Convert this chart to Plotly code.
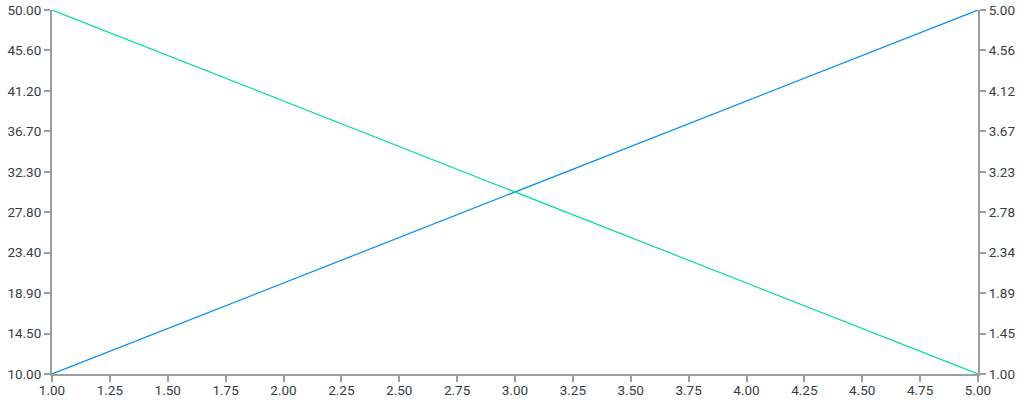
import plotly.graph_objects as go

x_values = [1, 2, 3, 4, 5]
series_left = [10, 20, 30, 40, 50]
series_right = [5, 4, 3, 2, 1]

x_ticks = [1 + 0.25 * i for i in range(17)]
x_tick_text = [f"{v:.2f}" for v in x_ticks]

left_tick_text = ["10.00", "14.50", "18.90", "23.40", "27.80", "32.30", "36.70", "41.20", "45.60", "50.00"]
right_tick_text = ["1.00", "1.45", "1.89", "2.34", "2.78", "3.23", "3.67", "4.12", "4.56", "5.00"]
left_ticks = [10 + 40 / 9 * i for i in range(10)]
right_ticks = [1 + 4 / 9 * i for i in range(10)]

axis_color = "#9e9e9e"
text_color = "#373d3f"

fig = go.Figure()
fig.add_trace(
    go.Scatter(
        x=x_values, y=series_left, mode="lines", name="Series 1",
        line=dict(color="#008FFB", width=1.2), yaxis="y",
    )
)
fig.add_trace(
    go.Scatter(
        x=x_values, y=series_right, mode="lines", name="Series 2",
        line=dict(color="#00E396", width=1.2), yaxis="y2",
    )
)

axis_common = dict(
    showgrid=False, zeroline=False, showline=True, linecolor=axis_color, linewidth=2,
    ticks="outside", ticklen=6, tickwidth=1.5, tickcolor=axis_color, automargin=False,
    tickfont=dict(family="Roboto, sans-serif", size=13.5, color=text_color),
)

fig.update_layout(
    width=1024,
    height=400,
    margin=dict(l=52, r=46, t=10, b=26),
    paper_bgcolor="white",
    plot_bgcolor="white",
    showlegend=False,
    xaxis=dict(
        range=[1, 5], tickvals=x_ticks, ticktext=x_tick_text,
        ticklabelstandoff=-3, **axis_common,
    ),
    yaxis=dict(range=[10, 50], tickvals=left_ticks, ticktext=left_tick_text, **axis_common),
    yaxis2=dict(
        range=[1, 5], tickvals=right_ticks, ticktext=right_tick_text,
        overlaying="y", side="right", **axis_common,
    ),
)

fig.write_html(
    "out.html",
    config={"displayModeBar": False},
    post_script="document.body.style.margin='0';",
)
